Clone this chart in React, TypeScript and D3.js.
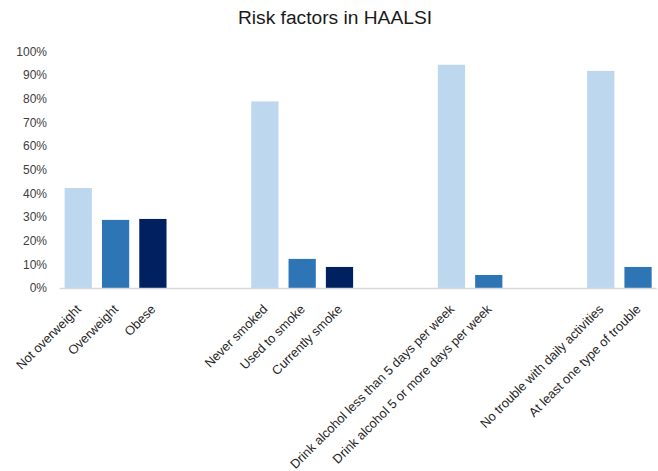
import React from "react";
import * as d3 from "d3";

const categories: string[] = [
  "Not overweight",
  "Overweight",
  "Obese",
  "",
  "",
  "Never smoked",
  "Used to smoke",
  "Currently smoke",
  "",
  "",
  "Drink alcohol less than 5 days per week",
  "Drink alcohol 5 or more days per week",
  "",
  "",
  "No trouble with daily activities",
  "At least one type of trouble",
];

const values: (number | null)[] = [
  0.423, 0.288, 0.292, null, null, 0.789, 0.123, 0.089, null, null, 0.944, 0.055, null, null, 0.918, 0.089,
];

const shadeIndex: number[] = [0, 1, 2, 0, 0, 0, 1, 2, 0, 0, 0, 1, 0, 0, 0, 1];

const palette: string[] = ["#BDD7EE", "#2E75B6", "#002060"];

const yTicks: number[] = [0, 0.1, 0.2, 0.3, 0.4, 0.5, 0.6, 0.7, 0.8, 0.9, 1.0];

const title = "Risk factors in HAALSI";

const W = 658;
const H = 471;
const FONT = "'Liberation Sans', Arial, sans-serif";

export default function App() {
  const x = d3
    .scaleBand<number>()
    .domain(categories.map((_, i) => i))
    .range([59.6, 656.7])
    .paddingInner(0.27)
    .paddingOuter(0.135);
  const y = d3.scaleLinear().domain([0, 1]).range([288, 51.5]);
  const fmt = d3.format(".0%");

  return (
    <svg
      width={W}
      height={H}
      style={{ position: "absolute", left: 0, top: 0, background: "#fff" }}
      fontFamily={FONT}
    >
      <rect x={0} y={0} width={W} height={H} fill="#fff" />
      <text x={335} y={24} textAnchor="middle" fontSize={19.2} fill="#1a1a1a">
        {title}
      </text>
      {yTicks.map((t) => (
        <text key={t} x={47} y={y(t)} dy="0.35em" textAnchor="end" fontSize={12} fill="#404040">
          {fmt(t)}
        </text>
      ))}
      {values.map((v, i) =>
        v == null ? null : (
          <rect
            key={i}
            x={x(i)}
            y={y(v)}
            width={x.bandwidth()}
            height={y(0) - y(v)}
            fill={palette[shadeIndex[i]]}
          />
        )
      )}
      <line x1={59.6} x2={656.7} y1={y(0) + 0.5} y2={y(0) + 0.5} stroke="#D9D9D9" strokeWidth={1.5} />
      {categories.map((c, i) =>
        c === "" ? null : (
          <text
            key={i}
            transform={`translate(${(x(i) as number) + x.bandwidth() / 2 + 3.5},${y(0) + 22}) rotate(-45)`}
            textAnchor="end"
            fontSize={12.8}
            fill="#262626"
          >
            {c}
          </text>
        )
      )}
    </svg>
  );
}
